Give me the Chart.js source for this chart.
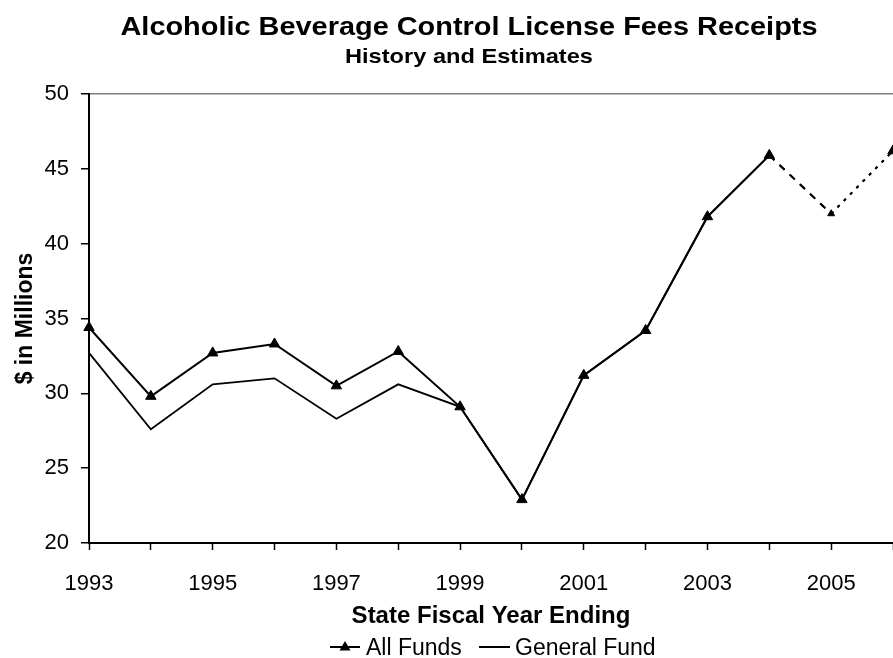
<!DOCTYPE html>
<html>
<head>
<meta charset="utf-8">
<title>Alcoholic Beverage Control License Fees Receipts</title>
<script src="https://cdn.jsdelivr.net/npm/chart.js@4.4.1/dist/chart.umd.min.js"></script>
<style>
  html, body { margin: 0; padding: 0; background: #fff; }
  #wrap { width: 893px; height: 658px; position: relative; }
</style>
</head>
<body>
<div id="wrap"><canvas id="chart"></canvas></div>
<script>
// Fiscal years, plus the two estimate years at the end
const years = ['1993', '1994', '1995', '1996', '1997', '1998', '1999',
               '2000', '2001', '2002', '2003', '2004', '2005', '2006'];

// $ in millions
const allFunds    = [34.4, 29.8, 32.7, 33.3, 30.5, 32.8, 29.1, 22.9, 31.2, 34.2, 41.8, 45.9, 42.0, 46.2];
const generalFund = [32.7, 27.6, 30.6, 31.0, 28.3, 30.6, 29.1, 22.9, 31.2, 34.2, 41.8, 45.9, 42.0, 46.2];

const yTicks = [20, 25, 30, 35, 40, 45, 50];

const FONT = "'Liberation Sans', Arial, sans-serif";
const firstEstimate = years.indexOf('2004'); // segments after this are estimates

// dashed look for the estimate years
function estimateDash(ctx) {
    if (ctx.p0DataIndex === firstEstimate) return [7, 7];
    if (ctx.p0DataIndex > firstEstimate) return [3, 6];
    return undefined;
}

// draw text centred on cx, stretched sideways to fill width w
function wideText(c, text, cx, y, w) {
    const m = c.measureText(text).width;
    c.save();
    c.translate(cx, y);
    c.scale(w / m, 1);
    c.fillText(text, 0, 0);
    c.restore();
}

// titles and legend are painted by hand so they sit where they should
const decorations = {
    id: 'decorations',
    afterDraw(chart) {
        const c = chart.ctx;
        c.save();
        c.fillStyle = '#000';
        c.textAlign = 'center';
        c.textBaseline = 'alphabetic';
        c.font = `bold 26px ${FONT}`;
        wideText(c, 'Alcoholic Beverage Control License Fees Receipts', 469, 35, 697);
        c.font = `bold 21px ${FONT}`;
        wideText(c, 'History and Estimates', 469, 63, 248);

        // legend
        const ly = 647;
        c.strokeStyle = '#000';
        c.lineWidth = 2;
        c.beginPath();
        c.moveTo(330, ly); c.lineTo(360, ly);
        c.stroke();
        c.beginPath();
        c.moveTo(345, ly - 6); c.lineTo(350.5, ly + 3.5); c.lineTo(339.5, ly + 3.5);
        c.closePath();
        c.fill();
        c.beginPath();
        c.moveTo(479, ly); c.lineTo(510, ly);
        c.stroke();
        c.font = `23px ${FONT}`;
        c.textAlign = 'left';
        c.fillText('All Funds', 366, 655);
        c.fillText('General Fund', 515, 655);
        c.restore();
    }
};

new Chart(document.getElementById('chart'), {
    type: 'line',
    data: {
        labels: years,
        datasets: [
            {
                label: 'General Fund',
                data: generalFund,
                borderColor: '#000',
                borderWidth: 1.8,
                pointRadius: 0,
                tension: 0,
                segment: { borderDash: estimateDash }
            },
            {
                label: 'All Funds',
                data: allFunds,
                borderColor: '#000',
                borderWidth: 2,
                pointStyle: 'triangle',
                pointRadius: years.map(y => (y === '2005' ? 4 : 6)),
                pointBackgroundColor: '#000',
                pointBorderColor: '#000',
                pointBorderWidth: 1,
                tension: 0,
                segment: { borderDash: estimateDash }
            }
        ]
    },
    options: {
        responsive: true,
        maintainAspectRatio: false,
        animation: false,
        layout: {
            autoPadding: false, // the last marker is allowed to run off the edge
            padding: { top: 94, right: 0, bottom: 0, left: 0 }
        },
        plugins: {
            legend: { display: false },
            tooltip: { enabled: false },
            title: { display: false }
        },
        scales: {
            x: {
                type: 'category',
                offset: false,
                afterFit(scale) {
                    scale.height = 115;
                    scale.paddingLeft = 0;
                    scale.paddingRight = 0;
                },
                grid: {
                    drawOnChartArea: false,
                    tickColor: '#000',
                    tickLength: 7,
                    tickWidth: 1.5
                },
                border: { color: '#000', width: 2 },
                ticks: {
                    autoSkip: false,
                    maxRotation: 0,
                    color: '#000',
                    padding: 21,
                    font: { family: FONT, size: 22 },
                    callback: (v, i) => (i % 2 === 0 && i < years.length - 1 ? years[i] : '')
                },
                title: {
                    display: true,
                    text: 'State Fiscal Year Ending',
                    color: '#000',
                    font: { family: FONT, size: 24, weight: 'bold' },
                    padding: { top: 0, bottom: 27 }
                }
            },
            y: {
                min: 20,
                max: 50,
                afterFit(scale) { scale.width = 89; },
                afterBuildTicks(scale) { scale.ticks = yTicks.map(v => ({ value: v })); },
                grid: {
                    color: ctx => (ctx.tick && ctx.tick.value === 50 ? '#808080' : 'rgba(0,0,0,0)'),
                    tickColor: '#000',
                    tickLength: 8,
                    lineWidth: 1.5
                },
                border: { color: '#000', width: 2 },
                ticks: {
                    color: '#000',
                    padding: 12,
                    font: { family: FONT, size: 22 }
                },
                title: {
                    display: true,
                    text: '$ in Millions',
                    color: '#000',
                    font: { family: FONT, size: 23, weight: 'bold' },
                    padding: { top: 12, bottom: 0 }
                }
            }
        }
    },
    plugins: [decorations]
});
</script>
</body>
</html>
